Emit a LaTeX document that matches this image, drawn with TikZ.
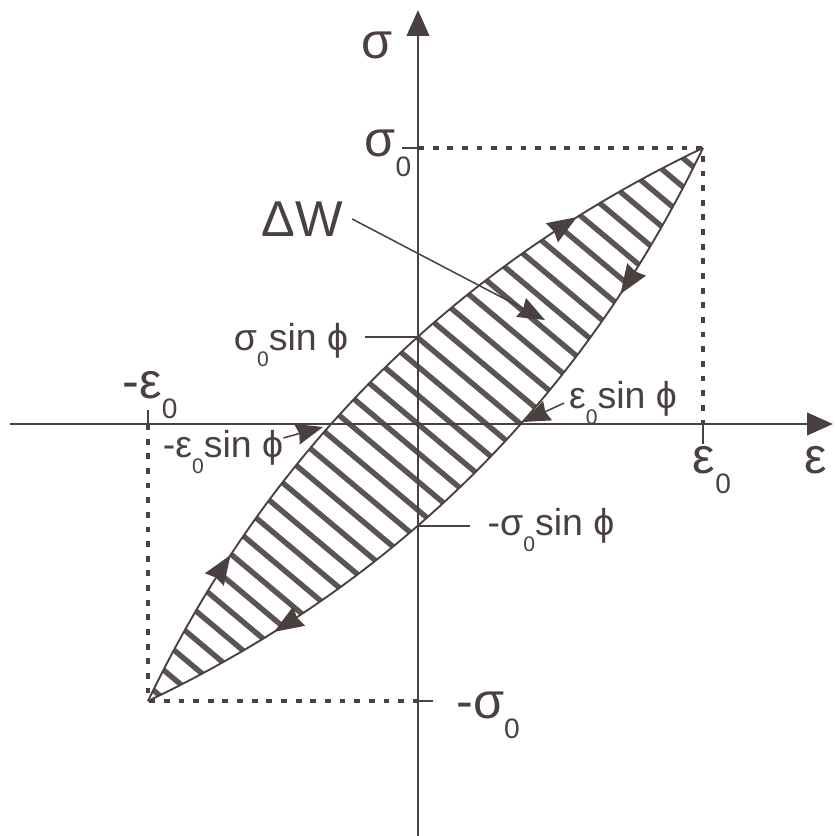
\documentclass[tikz,border=0pt]{standalone}
\usepackage{fontspec}
\setmainfont{Liberation Sans}
\usetikzlibrary{arrows.meta,decorations.markings}
\definecolor{ink}{RGB}{74,64,64}
\newcommand{\subbig}[1]{\raisebox{-17pt}{\fontsize{24}{24}\selectfont #1}}
\newcommand{\subsmall}[1]{\raisebox{-13pt}{\fontsize{18}{18}\selectfont #1}}

\begin{document}
\begin{tikzpicture}[x=0.03cm, y=0.03cm, color=ink, line join=round,
    biglabel/.style={inner sep=0pt, font=\fontsize{43}{43}\selectfont},
    smalllabel/.style={inner sep=0pt, font=\fontsize{32}{32}\selectfont},
    boxline/.style={line width=3.4pt, dash pattern=on 5pt off 7.5pt},
    axis/.style={line width=2.3pt},
    leader/.style={line width=1.3pt},
    leadtip/.style={-{Stealth[length=23pt, width=18pt, inset=2pt]}},
    cycleline/.style={line width=1.6pt, postaction={decorate}, decoration={markings,
        mark=at position 0.21 with {\arrow{Stealth[length=25pt, width=19pt, inset=2pt]}},
        mark=at position 0.82 with {\arrow{Stealth[length=25pt, width=19pt, inset=2pt]}}}},
    hatch/.style={line width=4.6pt, color=ink!90}]
    \useasboundingbox (-418,-412) rectangle (417,424);

    \coordinate (A) at (-270,-277);
    \coordinate (B) at (285,276);
    \coordinate (sp) at (0,87);
    \coordinate (sm) at (0,-102);
    \coordinate (etip) at (105,2);
    \coordinate (emtip) at (-95,-3);
    \coordinate (dwtip) at (127,104);

    \begin{scope}
        \clip (A) .. controls (-150,-27.7) and (35,156.7) .. (B)
              .. controls (165,26.7) and (-20,-157.7) .. (A) -- cycle;
        \foreach \k in {-18,...,18}
            \draw[hatch, rotate=-40] (-600,\k*22) -- (600,\k*22);
    \end{scope}

    \draw[boxline] (0,276) -- (285,276) -- (285,0);
    \draw[boxline] (-270,0) -- (-270,-277) -- (0,-277);

    \draw[axis, -{Triangle[length=22pt, width=19pt]}] (-408,0) -- (415,0);
    \draw[axis, -{Triangle[length=22pt, width=19pt]}] (0,-412) -- (0,414);
    \draw[axis] (-16,276) -- (0,276);
    \draw[axis] (0,-277) -- (15,-277);
    \draw[axis] (285,0) -- (285,-20);
    \draw[axis] (-270,0) -- (-270,14);

    \draw[cycleline] (A) .. controls (-150,-27.7) and (35,156.7) .. (B);
    \draw[cycleline] (B) .. controls (165,26.7) and (-20,-157.7) .. (A);

    \node[biglabel] (sig) at (-41,379) {σ};
    \node[biglabel] (eps) at (398,-36) {ε};
    \node[biglabel] (s0) at (-30,271) {σ\subbig{0}};
    \node[biglabel] (e0) at (294,-46) {ε\subbig{0}};
    \node[biglabel] (me0) at (-268,29) {-ε\subbig{0}};
    \node[biglabel] (ms0) at (70,-291) {-σ\subbig{0}};
    \node[biglabel] (dw) at (-116,205) {ΔW};
    \node[smalllabel] (s0s) at (-127,79) {σ\subsmall{0}sin ϕ};
    \node[smalllabel] (e0s) at (205,21) {ε\subsmall{0}sin ϕ};
    \node[smalllabel] (me0s) at (-195,-28) {-ε\subsmall{0}sin ϕ};
    \node[smalllabel] (ms0s) at (133,-106) {-σ\subsmall{0}sin ϕ};

    \draw[leader, leadtip] ([xshift=8pt]dw.east) -- (dwtip);
    \draw[leader, shorten <=14.5pt] (s0s.east |- sp) -- (sp);
    \draw[leader, shorten >=14.5pt] (sm) -- (ms0s.west |- sm);
    \draw[leader, leadtip] ([xshift=-4pt]e0s.west) -- (etip);
    \draw[leader, leadtip] ([yshift=12pt]me0s.east) -- (emtip);
\end{tikzpicture}
\end{document}
